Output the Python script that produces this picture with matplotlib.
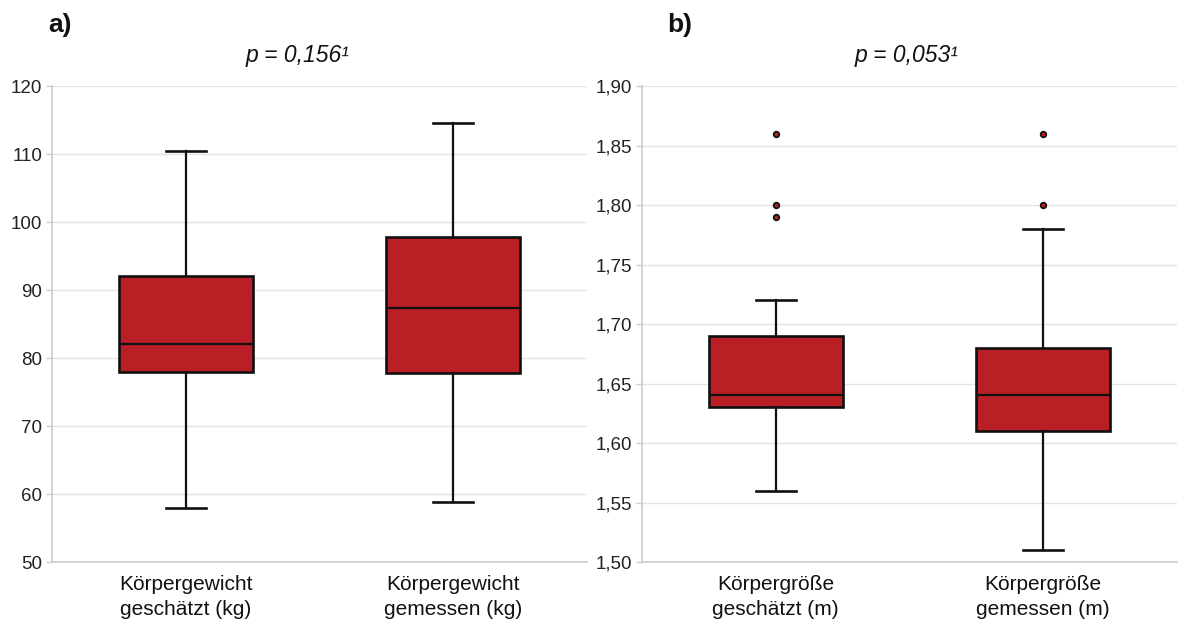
import numpy as np
import matplotlib.pyplot as plt
from matplotlib.ticker import FuncFormatter

plt.rcParams['font.family'] = ['Liberation Sans', 'DejaVu Sans']

# a) body weight
weight_labels = ['Körpergewicht\ngeschätzt (kg)', 'Körpergewicht\ngemessen (kg)']
weight_whislo = [57.9, 58.8]
weight_q1 = [78.0, 77.8]
weight_med = [82.1, 87.3]
weight_q3 = [92.0, 97.8]
weight_whishi = [110.5, 114.5]
weight_fliers = [[], []]
weight_p = 'p = 0,156¹'

# b) body height
height_labels = ['Körpergröße\ngeschätzt (m)', 'Körpergröße\ngemessen (m)']
height_whislo = [1.56, 1.51]
height_q1 = [1.63, 1.61]
height_med = [1.64, 1.64]
height_q3 = [1.69, 1.68]
height_whishi = [1.72, 1.78]
height_fliers = [[1.86, 1.80, 1.79], [1.86, 1.80]]
height_p = 'p = 0,053¹'

red = '#B91F24'
grid_col = '#e3e3e3'
spine_col = '#cccccc'

fig = plt.figure(figsize=(11.94, 6.26), dpi=100)
ax1 = fig.add_axes([0.0436, 0.1022, 0.448, 0.7604])
ax2 = fig.add_axes([0.5377, 0.1022, 0.448, 0.7604])


def draw(ax, labels, lo, q1, med, q3, hi, fliers, ylim, yticks, fmt, ptext, px, letter):
    stats = []
    for i in range(len(labels)):
        stats.append(dict(whislo=lo[i], q1=q1[i], med=med[i], q3=q3[i],
                          whishi=hi[i], fliers=fliers[i], label=labels[i]))
    ax.bxp(stats, positions=[1, 2], widths=0.5, patch_artist=True,
           showfliers=True,
           boxprops=dict(facecolor=red, edgecolor='#111111', linewidth=1.9),
           medianprops=dict(color='#111111', linewidth=1.6),
           whiskerprops=dict(color='#111111', linewidth=1.6),
           capprops=dict(color='#111111', linewidth=1.9),
           capwidths=0.15,
           flierprops=dict(marker='o', markersize=4, markerfacecolor=red,
                           markeredgecolor='#111111', markeredgewidth=1.3))
    ax.set_xlim(0.5, 2.5)
    ax.set_ylim(*ylim)
    ax.set_yticks(yticks)
    ax.yaxis.set_major_formatter(FuncFormatter(fmt))
    ax.grid(axis='y', color=grid_col, linewidth=1)
    ax.set_axisbelow(True)
    for s in ['top', 'right']:
        ax.spines[s].set_visible(False)
    for s in ['left', 'bottom']:
        ax.spines[s].set_color(spine_col)
        ax.spines[s].set_linewidth(1.2)
    ax.tick_params(axis='y', colors=spine_col, labelcolor='#222222',
                   labelsize=13.5, length=4, width=1, pad=3)
    ax.tick_params(axis='x', length=0, labelsize=15, labelcolor='#111111', pad=9)
    for t in ax.get_xticklabels():
        t.set_linespacing(1.45)
    ax.text(px, 1.04, ptext, transform=ax.transAxes, ha='center', va='bottom',
            fontsize=16.5, fontstyle='italic', color='#111111')
    ax.text(letter[0], letter[1], letter[2], transform=fig.transFigure,
            ha='left', va='center', fontsize=19, fontweight='bold', color='#111111')


draw(ax1, weight_labels, weight_whislo, weight_q1, weight_med, weight_q3,
     weight_whishi, weight_fliers, (50, 120), np.arange(50, 121, 10),
     lambda v, p: f'{v:.0f}', weight_p, 0.458, (0.040, 0.960, 'a)'))
draw(ax2, height_labels, height_whislo, height_q1, height_med, height_q3,
     height_whishi, height_fliers, (1.5, 1.9), np.arange(1.50, 1.901, 0.05),
     lambda v, p: f'{v:.2f}'.replace('.', ','), height_p, 0.494, (0.559, 0.960, 'b)'))

fig.savefig('out.png', dpi=100)
